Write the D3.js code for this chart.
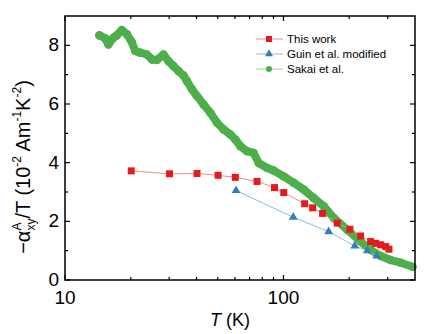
<!DOCTYPE html>
<html><head><meta charset="utf-8">
<script src="https://cdn.jsdelivr.net/npm/d3@7"></script>
<style>body{margin:0;background:#fff}svg{display:block;font-family:"Liberation Sans",Arial,sans-serif}</style>
</head><body>
<svg id="c" width="436" height="334"></svg>
<script>
// This work (red squares)
const workT = [20.1,30.1,40.2,50.2,60.2,75.7,91,100.3,125,136,151,176.3,201.4,225.5,250.6,264.2,278.6,293.7,304.1];
const workV = [3.72,3.62,3.63,3.57,3.50,3.36,3.15,2.98,2.60,2.46,2.27,1.94,1.73,1.50,1.31,1.25,1.20,1.14,1.05];
// Guin et al. modified (blue triangles)
const guinT = [60.7,110.8,161,212,242,267];
const guinV = [3.05,2.14,1.65,1.16,1.00,0.82];
// Sakai et al. (green circles)
const sakaiT = [14.36,15.26,15.80,16.66,17.27,18.20,19.19,20.23,20.95,22.08,23.71,24.99,26.34,28.24,29.78,31.39,33.09,34.88,36.16,38.12,40.18,43.10,46.26,49.65,53.23,57.12,60.22,63.50,68.15,73.07,77.03,84.19,90.26,100.3,111.5,123.9,137.7,153.1,170.1,196.0,225.5,250.6,278.6,309.6,344.1,389.4];
const sakaiV = [8.34,8.24,8.03,8.26,8.34,8.52,8.38,8.11,7.81,7.75,7.69,7.52,7.50,7.69,7.46,7.29,7.12,6.97,6.78,6.50,6.27,5.98,5.70,5.36,5.13,4.96,4.79,4.56,4.39,4.33,3.99,3.82,3.73,3.53,3.31,3.08,2.79,2.51,2.11,1.71,1.31,1.03,0.82,0.68,0.59,0.45];
const xMajor = [10,100];
const xMinor = [20,30,40,50,60,70,80,90,200,300];
const yMajor = [0,2,4,6,8];
const yMinor = [1,3,5,7];
const legendLabels = ["This work","Guin et al. modified","Sakai et al."];
const colors = {red:"#e41a1c", blue:"#377eb8", green:"#4daf4a"};

const svg = d3.select("#c");
const L=65, R=415, T=16, B=280;
const x = d3.scaleLog().domain([10,400]).range([L,R]);
const y = d3.scaleLinear().domain([0,9]).range([B,T]);

const zip = (a,b)=>a.map((t,i)=>[t,b[i]]);
const line = d3.line().x(d=>x(d[0])).y(d=>y(d[1]));

// data
const g = svg.append("g");
const sak = zip(sakaiT,sakaiV);
g.append("path").attr("d",line(sak)).attr("fill","none").attr("stroke",colors.green)
  .attr("stroke-width",8).attr("stroke-linejoin","round").attr("stroke-linecap","round");
g.selectAll(".sc").data(sak).join("circle").attr("cx",d=>x(d[0])).attr("cy",d=>y(d[1])).attr("r",4.3).attr("fill",colors.green);

const gu = zip(guinT,guinV);
g.append("path").attr("d",line(gu)).attr("fill","none").attr("stroke","#8fbbe3").attr("stroke-width",1);
const tri = d3.symbol().type(d3.symbolTriangle).size(34);
g.selectAll(".gt").data(gu).join("path").attr("d",tri).attr("transform",d=>`translate(${x(d[0])},${y(d[1])})`).attr("fill",colors.blue);

const wk = zip(workT,workV);
g.insert("path").attr("d",line(wk)).attr("fill","none").attr("stroke","#f08b8b").attr("stroke-width",1);
g.selectAll(".ws").data(wk).join("rect").attr("x",d=>x(d[0])-3.5).attr("y",d=>y(d[1])-3.5).attr("width",7).attr("height",7).attr("fill",colors.red);

// axes frame
const ax = svg.append("g").attr("stroke","#000").attr("fill","none");
ax.append("rect").attr("x",L).attr("y",T).attr("width",R-L).attr("height",B-T).attr("stroke-width",1.5);
const tk = svg.append("g").attr("stroke","#000").attr("stroke-width",1.2);
xMajor.forEach(v=>{tk.append("line").attr("x1",x(v)).attr("x2",x(v)).attr("y1",B).attr("y2",B-5);
  tk.append("line").attr("x1",x(v)).attr("x2",x(v)).attr("y1",T).attr("y2",T+5);});
xMinor.forEach(v=>{tk.append("line").attr("x1",x(v)).attr("x2",x(v)).attr("y1",B).attr("y2",B-3);
  tk.append("line").attr("x1",x(v)).attr("x2",x(v)).attr("y1",T).attr("y2",T+3);});
yMajor.forEach(v=>{tk.append("line").attr("x1",L).attr("x2",L+5).attr("y1",y(v)).attr("y2",y(v));
  tk.append("line").attr("x1",R).attr("x2",R-5).attr("y1",y(v)).attr("y2",y(v));});
yMinor.forEach(v=>{tk.append("line").attr("x1",L).attr("x2",L+3).attr("y1",y(v)).attr("y2",y(v));
  tk.append("line").attr("x1",R).attr("x2",R-3).attr("y1",y(v)).attr("y2",y(v));});

// tick labels
svg.selectAll(".xl").data(xMajor).join("text").attr("x",d=>x(d)).attr("y",B+24).attr("text-anchor","middle")
  .attr("font-size",19).text(d=>d);
svg.selectAll(".yl").data(yMajor).join("text").attr("x",L-6).attr("y",d=>y(d)+6).attr("text-anchor","end")
  .attr("font-size",19).text(d=>d);

// x title
const xt = svg.append("text").attr("x",230).attr("y",326).attr("text-anchor","middle").attr("font-size",18);
xt.append("tspan").attr("font-style","italic").text("T");
xt.append("tspan").text(" (K)");

// y title
const yt = svg.append("text").attr("transform","translate(30,167) rotate(-90)").attr("text-anchor","middle").attr("font-size",20);
yt.append("tspan").text("−α");
yt.append("tspan").attr("font-size",12).attr("dy",-9).text("A");
yt.append("tspan").attr("font-size",12).attr("dx",-8).attr("dy",14).text("xy");
yt.append("tspan").attr("dy",-5).text("/T (10");
yt.append("tspan").attr("font-size",12).attr("dy",-9).text("-2");
yt.append("tspan").attr("dy",9).text(" Am");
yt.append("tspan").attr("font-size",12).attr("dy",-9).text("-1");
yt.append("tspan").attr("dy",9).text("K");
yt.append("tspan").attr("font-size",12).attr("dy",-9).text("-2");
yt.append("tspan").attr("dy",9).text(")");

// legend
const lg = svg.append("g");
const ly=[39,54,69], lc=[["#f08b8b",colors.red],["#8fbbe3",colors.blue],["#9fd49d",colors.green]];
legendLabels.forEach((t,i)=>{
  lg.append("line").attr("x1",256).attr("x2",283).attr("y1",ly[i]).attr("y2",ly[i]).attr("stroke",lc[i][0]).attr("stroke-width",1);
  if(i===0) lg.append("rect").attr("x",266).attr("y",ly[i]-3).attr("width",6).attr("height",6).attr("fill",lc[i][1]);
  if(i===1) lg.append("path").attr("d",d3.symbol().type(d3.symbolTriangle).size(28)).attr("transform",`translate(269,${ly[i]})`).attr("fill",lc[i][1]);
  if(i===2) lg.append("circle").attr("cx",269).attr("cy",ly[i]).attr("r",3).attr("fill",lc[i][1]);
  lg.append("text").attr("x",287).attr("y",ly[i]+4).attr("font-size",11.5).text(t);
});
</script>
</body></html>
